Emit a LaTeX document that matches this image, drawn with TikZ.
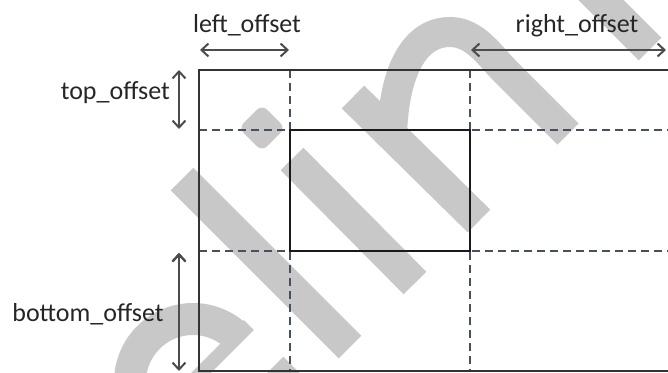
\documentclass[tikz,border=0pt]{standalone}
\usepackage{fontspec}
\setmainfont{Carlito}
\usetikzlibrary{arrows,arrows.meta}
\definecolor{wmgray}{RGB}{200,200,200}
\definecolor{guideblue}{RGB}{70,80,95}

\begin{document}
\begin{tikzpicture}[x=1pt,y=-1pt,>={Straight Barb[length=7pt,width=13pt]},
    frame/.style={draw=black!80,line width=2.6pt},
    window/.style={draw=black!90,line width=2.2pt},
    guide/.style={draw=guideblue,line width=1.4pt,dash pattern=on 8pt off 5pt},
    offarrow/.style={<->,draw=black!70,line width=2pt},
    lbl/.style={inner sep=0pt,text=black!85,font=\fontsize{26}{30}\selectfont},
    wm/.style={draw=wmgray,line width=32pt}]
  \useasboundingbox (0,0) rectangle (668,372);
  \clip (0,0) rectangle (668,372);
  % watermark
  \draw[wm] (193,382) ++(170:63) arc[start angle=170,end angle=318,radius=63];
  \draw[wm,line width=14pt] (249,325) -- (185,389);
  \draw[wm] (272,368) -- (310,406);
  \draw[wm] (182,179) -- (350,347);
  \node (idot) [fill=wmgray,minimum size=33pt,rounded corners=7pt,rotate=45] at (262,128) {};
  \draw[wm] (292,159) -- (415,283);
  \draw[wm] (353,97) -- (479,221);
  \draw[wm,line width=30pt] (392,135) .. controls (394,70) and (415,32) .. (450,32)
     .. controls (475,32) and (490,56) .. (505,71) -- (568,134);
  \draw[wm] (560,-41) -- (650,49);
  % frame and window
  \coordinate (ftl) at (199,70);
  \coordinate (fbr) at (690,371);
  \coordinate (itl) at (290,130);
  \coordinate (ibr) at (470,251);
  \draw[guide] (ftl -| itl) -- (fbr -| itl);
  \draw[guide] (ftl -| ibr) -- (fbr -| ibr);
  \draw[guide] (ftl |- itl) -- (fbr |- itl);
  \draw[guide] (ftl |- ibr) -- (fbr |- ibr);
  \draw[frame] (ftl) rectangle (fbr);
  \draw[window] (itl) rectangle (ibr);
  % offsets
  \coordinate (la) at (200,50);  \coordinate (lb) at (289,50);
  \coordinate (ra) at (471,50);  \coordinate (rb) at (666,50);
  \coordinate (ta) at (179,70);  \coordinate (tb) at (179,129);
  \coordinate (ba) at (179,253); \coordinate (bb) at (179,371);
  \path[offarrow] (la) edge (lb) (ra) edge (rb) (ta) edge (tb) (ba) edge (bb);
  \node (ltxt) [lbl,anchor=base] at (247,32) {left\_offset};
  \node (rtxt) [lbl,anchor=base] at (577,32) {right\_offset};
  \node (ttxt) [lbl,anchor=base east] at (170,99) {top\_offset};
  \node (btxt) [lbl,anchor=base] at (88,321) {bottom\_offset};
\end{tikzpicture}
\end{document}
